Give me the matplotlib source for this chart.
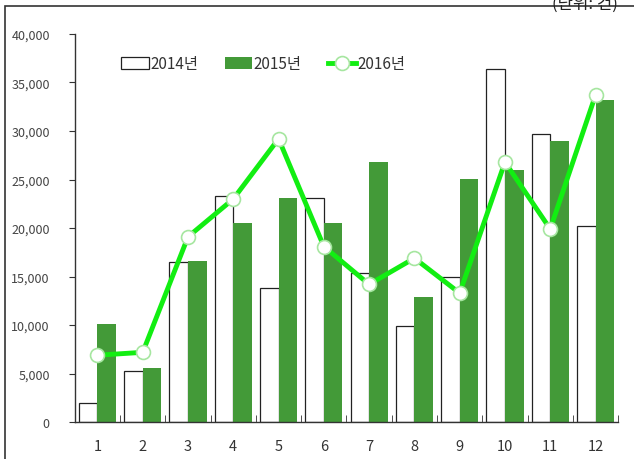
import numpy as np
import matplotlib.pyplot as plt
from matplotlib.ticker import FuncFormatter, FixedLocator
from matplotlib.patches import Rectangle

plt.rcParams['font.family'] = ['Noto Sans CJK KR', 'DejaVu Sans']

months = [1, 2, 3, 4, 5, 6, 7, 8, 9, 10, 11, 12]
y2014 = [1950, 5250, 16500, 23300, 13800, 23100, 15400, 9900, 14950, 36400, 29700, 20200]
y2015 = [10100, 5600, 16600, 20500, 23100, 20500, 26800, 12900, 25100, 26000, 29000, 33200]
y2016 = [6900, 7200, 19100, 23000, 29200, 18100, 14200, 16900, 13300, 26800, 19900, 33700]
labels = ['2014년', '2015년', '2016년']

green = '#439a38'
lime = '#12ee12'

fig = plt.figure(figsize=(6.34, 4.6), dpi=100)
ax = fig.add_axes([0.118, 0.080, 0.857, 0.844])

x = np.array(months)
w = 0.41
b1 = ax.bar(x - w / 2, y2014, w, color='white', edgecolor='#222222', linewidth=0.9, label=labels[0])
b2 = ax.bar(x + w / 2, y2015, w, color=green, edgecolor='none', label=labels[1])
l3, = ax.plot(x, y2016, color=lime, linewidth=3.5, marker='o', markersize=10,
              markerfacecolor='white', markeredgecolor='#a6e6a0', markeredgewidth=1.2,
              label=labels[2], zorder=5)

ax.set_xlim(0.5, 12.5)
ax.set_ylim(0, 40000)
ax.set_yticks(np.arange(0, 40001, 5000))
ax.yaxis.set_major_formatter(FuncFormatter(lambda v, p: f'{int(v):,}'))
ax.set_xticks(x)
ax.set_xticklabels([str(m) for m in months])
ax.xaxis.set_minor_locator(FixedLocator(np.arange(1.5, 12.6, 1)))
ax.tick_params(axis='x', which='major', length=0, pad=12, labelsize=10.5, labelcolor='#333333')
ax.tick_params(axis='x', which='minor', length=5, direction='in', color='#333333')
ax.tick_params(axis='y', length=4, direction='out', color='#333333', labelsize=9,
               labelcolor='#444444', pad=14)

for s in ['top', 'right']:
    ax.spines[s].set_visible(False)
for s in ['left', 'bottom']:
    ax.spines[s].set_color('#333333')
    ax.spines[s].set_linewidth(1.0)

leg = ax.legend([b1, b2, l3], labels, loc='upper left', bbox_to_anchor=(0.06, 0.98), ncol=3,
                frameon=False, fontsize=11, handlelength=1.8, handleheight=0.8,
                columnspacing=1.75, handletextpad=0.1)
for t in leg.get_texts():
    t.set_color('#333333')

# outer frame of the original picture
fig.patches.append(Rectangle((5 / 634, -0.1), 1.2, 1.1 - 7 / 460, transform=fig.transFigure,
                             fill=False, edgecolor='#333333', linewidth=1.2))
fig.text(0.975, 0.99, '(단위: 건)', ha='right', va='center', fontsize=12, color='#222222')

fig.savefig('out.png', dpi=100)
